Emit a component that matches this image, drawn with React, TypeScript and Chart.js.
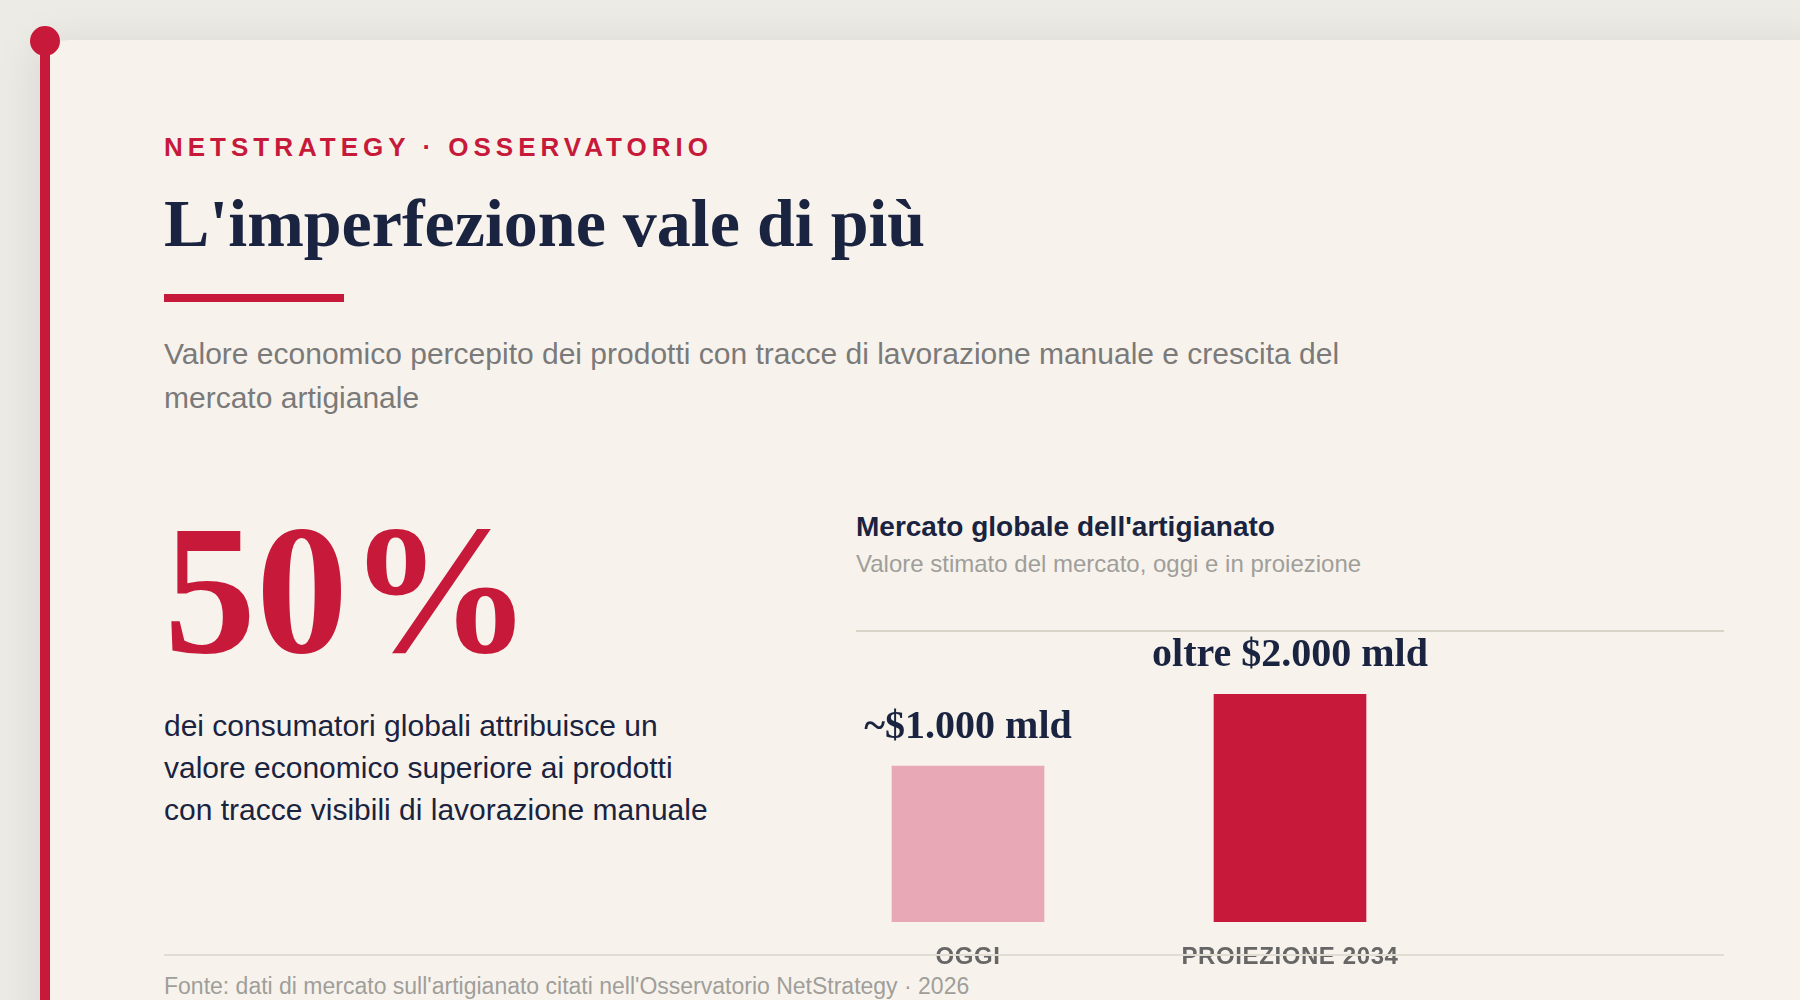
import { useEffect, useRef } from 'react'
import { Chart, registerables, Plugin } from 'chart.js'

Chart.register(...registerables)

const categories = ['OGGI', 'PROIEZIONE 2034']
// bar heights as drawn, in % of the tallest bar
const barHeights = [68.4, 100]
const valueLabels = ['~$1.000 mld', 'oltre $2.000 mld']
const barColors = ['#e9a8b5', '#c71a3a']

const CRIMSON = '#c71a3a'
const NAVY = '#1a2340'
const SANS = '"Liberation Sans", Arial, sans-serif'
const SERIF = '"Liberation Serif", "Times New Roman", serif'

// value labels above the bars, and letter spacing for the axis labels
const barLabels: Plugin<'bar'> = {
  id: 'barLabels',
  beforeDraw(chart) {
    ;(chart.ctx as any).letterSpacing = '0.6px'
  },
  afterDatasetsDraw(chart) {
    const { ctx } = chart
    const meta = chart.getDatasetMeta(0)
    ctx.save()
    ;(ctx as any).letterSpacing = '0px'
    ctx.font = `bold 40px ${SERIF}`
    ctx.fillStyle = NAVY
    ctx.textAlign = 'center'
    ctx.textBaseline = 'alphabetic'
    meta.data.forEach((bar, i) => {
      ctx.fillText(valueLabels[i], bar.x, bar.y - 28)
    })
    ctx.restore()
  },
}

function MarketChart() {
  const chartRef = useRef<HTMLCanvasElement>(null)

  useEffect(() => {
    if (!chartRef.current) return
    const chart = new Chart(chartRef.current, {
      type: 'bar',
      data: {
        labels: categories,
        datasets: [
          {
            data: barHeights,
            backgroundColor: barColors,
            barThickness: 152,
          },
        ],
      },
      options: {
        responsive: false,
        animation: false,
        layout: { padding: { top: 62 } },
        plugins: { legend: { display: false }, tooltip: { enabled: false } },
        scales: {
          x: {
            grid: { display: false, drawTicks: false },
            border: { display: false },
            afterFit: (scale: any) => {
              scale.height = 50
            },
            ticks: {
              color: '#666666',
              font: { family: SANS, size: 24, weight: 'bold' },
              padding: 21,
              autoSkip: false,
              maxRotation: 0,
            },
          },
          y: { display: false, min: 0, max: 100 },
        },
      },
      plugins: [barLabels],
    })
    return () => chart.destroy()
  }, [])

  return (
    <canvas
      ref={chartRef}
      width={644}
      height={340}
      style={{ position: 'absolute', left: 807, top: 632, width: 644, height: 340 }}
    />
  )
}

function Text(props: { x: number; y: number; size: number; color: string; bold?: boolean; serif?: boolean; spacing?: number; line?: number; children: any }) {
  const { x, y, size, color, bold, serif, spacing, line, children } = props
  return (
    <div
      style={{
        position: 'absolute',
        left: x,
        top: y,
        fontFamily: serif ? SERIF : SANS,
        fontSize: size,
        fontWeight: bold ? 700 : 400,
        color,
        letterSpacing: spacing,
        lineHeight: `${line ?? size}px`,
        whiteSpace: 'nowrap',
      }}
    >
      {children}
    </div>
  )
}

export default function App() {
  return (
    <div style={{ position: 'fixed', left: 0, top: 0, width: 1800, height: 1000, overflow: 'hidden', background: '#ecebe6' }}>
      <div style={{ position: 'absolute', left: 40, top: 40, width: 1800, height: 1000, boxShadow: '-6px 2px 40px rgba(0,0,0,0.08)' }} />
      <div style={{ position: 'absolute', left: 50, top: 40, width: 1800, height: 1000, background: '#f7f3ec', borderTopLeftRadius: 20 }} />
      <div style={{ position: 'absolute', left: 40, top: 40, width: 10, height: 960, background: CRIMSON }} />
      <div style={{ position: 'absolute', left: 30, top: 26, width: 30, height: 30, borderRadius: '50%', background: CRIMSON }} />

      <Text x={164} y={134} size={26} color={CRIMSON} bold spacing={5}>NETSTRATEGY · OSSERVATORIO</Text>
      <Text x={164} y={189} size={68} color={NAVY} bold serif>L'imperfezione vale di più</Text>
      <div style={{ position: 'absolute', left: 164, top: 294, width: 180, height: 8, background: CRIMSON }} />
      <Text x={164} y={332} size={30} color="#7a7a7a" line={44}>
        Valore economico percepito dei prodotti con tracce di lavorazione manuale e crescita del
        <br />
        mercato artigianale
      </Text>

      <Text x={164} y={498} size={184} color={CRIMSON} bold serif>50%</Text>
      <Text x={164} y={705} size={30} color={NAVY} line={42}>
        dei consumatori globali attribuisce un
        <br />
        valore economico superiore ai prodotti
        <br />
        con tracce visibili di lavorazione manuale
      </Text>

      <Text x={856} y={513} size={28} color={NAVY} bold>Mercato globale dell'artigianato</Text>
      <Text x={856} y={552} size={24} color="#a09e9a">Valore stimato del mercato, oggi e in proiezione</Text>
      <div style={{ position: 'absolute', left: 856, top: 630, width: 868, height: 2, background: '#d8d4c8' }} />

      <MarketChart />

      <div style={{ position: 'absolute', left: 164, top: 954, width: 1560, height: 2, background: '#e2ddd2' }} />
      <Text x={164} y={975} size={23} color="#a09e9a">Fonte: dati di mercato sull'artigianato citati nell'Osservatorio NetStrategy · 2026</Text>
    </div>
  )
}
